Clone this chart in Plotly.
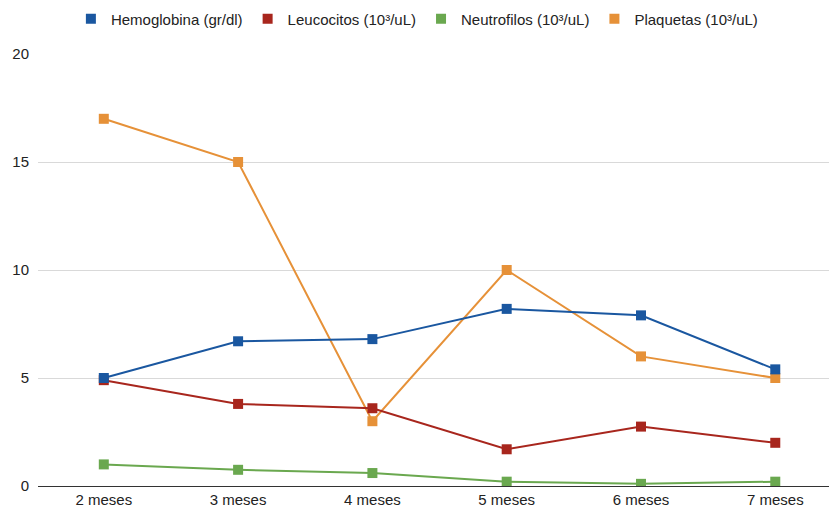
import plotly.graph_objects as go

# Monthly blood counts
meses = ["2 meses", "3 meses", "4 meses", "5 meses", "6 meses", "7 meses"]
hemoglobina = [5.0, 6.7, 6.8, 8.2, 7.9, 5.4]
leucocitos = [4.9, 3.8, 3.6, 1.7, 2.75, 2.0]
neutrofilos = [1.0, 0.75, 0.6, 0.2, 0.1, 0.2]
plaquetas = [17, 15, 3, 10, 6, 5]

series = [
    ("Hemoglobina (gr/dl)", hemoglobina, "#1a57a0"),
    ("Leucocitos (10³/uL)", leucocitos, "#a8261d"),
    ("Neutrofilos (10³/uL)", neutrofilos, "#6aa84f"),
    ("Plaquetas (10³/uL)", plaquetas, "#e69138"),
]

fig = go.Figure()
xs = list(range(len(meses)))
# Draw in reverse so the first series sits on top
for name, vals, color in reversed(series):
    fig.add_trace(go.Scatter(
        x=xs, y=vals, mode="lines+markers", name=name,
        line=dict(color=color, width=2),
        marker=dict(symbol="square", size=10, color=color),
        showlegend=False, hoverinfo="y",
    ))
# Legend entries shown as plain squares
for name, vals, color in series:
    fig.add_trace(go.Scatter(
        x=[None], y=[None], mode="markers", name=name,
        marker=dict(symbol="square", size=10, color=color),
        showlegend=True,
    ))

fig.update_layout(
    width=830, height=508,
    margin=dict(l=38, r=1, t=54, b=22),
    paper_bgcolor="white", plot_bgcolor="white",
    font=dict(family="Liberation Sans, Arial, sans-serif", size=15, color="#444"),
    legend=dict(
        orientation="h", x=0.479, xanchor="center", y=0.995, yanchor="top",
        yref="container", font=dict(size=15, color="#222"),
        itemwidth=30, traceorder="normal",
    ),
    xaxis=dict(
        range=[-0.49, 5.40], tickmode="array", tickvals=xs, ticktext=meses,
        showgrid=False, zeroline=False, showline=False, ticks="",
        tickfont=dict(size=15, color="#222"), ticklabelstandoff=3,
    ),
    yaxis=dict(
        range=[0, 20], tickvals=[0, 5, 10, 15, 20], showgrid=True,
        gridcolor="#d9d9d9", gridwidth=1, zeroline=True, zerolinecolor="#333",
        zerolinewidth=1, ticks="", tickfont=dict(size=15, color="#222"),
        ticklabelstandoff=8,
    ),
)

fig.write_html("out.html")
